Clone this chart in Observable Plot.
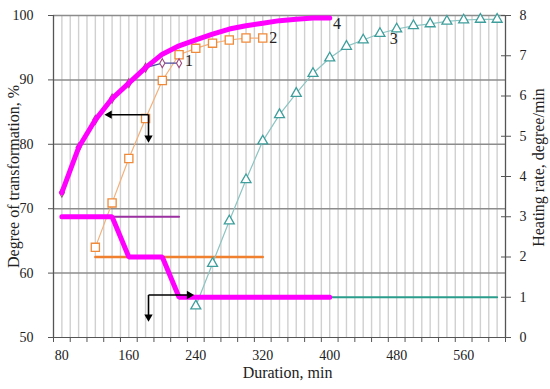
<!DOCTYPE html>
<html><head><meta charset="utf-8">
<script src="https://cdn.jsdelivr.net/npm/d3@7"></script>
<script src="https://cdn.jsdelivr.net/npm/@observablehq/plot@0.6"></script>
<style>
html,body{margin:0;padding:0;background:#fff;}
</style></head><body>
<div id="chart"></div>
<script>
// Degree of transformation (%), left axis
const durations1 = [80, 100, 120, 140, 160, 180, 200, 220];
const degree1 = [72.5, 79.5, 83.8, 87.1, 89.5, 91.9, 92.6, 92.6];
const durations2 = [120, 140, 160, 180, 200, 220, 240, 260, 280, 300, 320];
const degree2 = [64.0, 70.9, 77.8, 84.0, 89.9, 93.9, 94.9, 95.7, 96.2, 96.5, 96.5];
const durations3 = [240, 260, 280, 300, 320, 340, 360, 380, 400, 420, 440, 460, 480, 500, 520, 540, 560, 580, 600];
const degree3 = [54.9, 61.5, 68.1, 74.5, 80.5, 84.6, 87.9, 91.0, 93.4, 95.2, 96.2, 97.2, 97.9, 98.4, 98.7, 99.1, 99.3, 99.4, 99.4];
const durations4 = [80, 100, 120, 140, 160, 180, 200, 220, 240, 260, 280, 300, 320, 340, 360, 380, 400];
const degree4 = [72.5, 79.5, 83.8, 87.1, 89.5, 91.9, 94.0, 95.3, 96.2, 97.1, 97.9, 98.4, 98.8, 99.2, 99.4, 99.6, 99.6];

// Heating rate (degree/min), right axis
const rateDur1 = [80, 220];
const rate1 = [3, 3];
const rateDur2 = [120, 320];
const rate2 = [2, 2];
const rateDur3 = [240, 600];
const rate3 = [1, 1];
const rateDur4 = [80, 140, 160, 200, 220, 400];
const rate4 = [3, 3, 2, 2, 1, 1];

// Axes
const xTickLabels = [80, 160, 240, 320, 400, 480, 560];
const leftTicks = [50, 60, 70, 80, 90, 100];
const rightTicks = [0, 1, 2, 3, 4, 5, 6, 7, 8];

// Curve labels
const curveLabels = ["1", "2", "3", "4"];
const curveLabelX = [231.8, 332.6, 476.4, 408.7];
const curveLabelY = [92.9, 96.5, 96.4, 98.7];

// Arrow annotations (data units: duration, degree %)
const arrowShafts = [
  {x1: 183.5, y1: 84.6, x2: 136.7, y2: 84.6},
  {x1: 183.5, y1: 84.6, x2: 183.5, y2: 81.0},
  {x1: 183.5, y1: 56.6, x2: 232.2, y2: 56.6},
  {x1: 183.5, y1: 56.6, x2: 183.5, y2: 53.2}
];
const arrowHeadDir = [-90, 180, 90, 180];

const toLeft = r => 50 + r * 50 / 8;
const rows = (xs, ys) => xs.map((x, i) => ({x, y: ys[i]}));
const rateRows = (xs, rs) => xs.map((x, i) => ({x, y: toLeft(rs[i])}));

const c1 = rows(durations1, degree1);
const c2 = rows(durations2, degree2);
const c3 = rows(durations3, degree3);
const c4 = rows(durations4, degree4);
const r1 = rateRows(rateDur1, rate1);
const r2 = rateRows(rateDur2, rate2);
const r3 = rateRows(rateDur3, rate3);
const r4 = rateRows(rateDur4, rate4);
const labels = curveLabels.map((t, i) => ({t, x: curveLabelX[i], y: curveLabelY[i]}));
const heads = arrowShafts.map((a, i) => ({x: a.x2, y: a.y2, rot: arrowHeadDir[i]}));

const font = "'Palatino Linotype', 'Book Antiqua', Palatino, 'Liberation Serif', serif";

const plot = Plot.plot({
  width: 550,
  height: 389,
  marginLeft: 53,
  marginRight: 45,
  marginTop: 15,
  marginBottom: 52,
  style: {fontFamily: font, fontSize: "14px", color: "#222", background: "#fff"},
  x: {domain: [70, 610]},
  y: {domain: [50, 100]},
  marks: [
    Plot.ruleX(d3.range(70, 611, 10), {stroke: "#d0d0d0", strokeWidth: 1.4}),
    Plot.ruleY([60, 70, 80, 90, 100], {stroke: "#8c8c8c", strokeWidth: 1.5}),
    Plot.ruleX([70], {stroke: "#555", strokeWidth: 1.2}),
    Plot.ruleX([610], {stroke: "#555", strokeWidth: 1.2}),
    Plot.ruleY([50], {stroke: "#555", strokeWidth: 1.2}),
    Plot.axisX({ticks: d3.range(70, 611, 20), tickFormat: () => "", tickSize: 5, label: null, stroke: "#555"}),
    Plot.axisX({ticks: xTickLabels, tickSize: 0, tickPadding: 13, label: null}),
    Plot.axisY({ticks: leftTicks, tickSize: 5, tickPadding: 15, label: null, stroke: "#555"}),
    Plot.axisY({anchor: "right", ticks: rightTicks.map(toLeft), tickFormat: d => Math.round((d - 50) * 8 / 50), tickSize: 10, dx: -5, tickPadding: 9, label: null, stroke: "#555"}),

    // heating rate lines
    Plot.line(r2, {x: "x", y: "y", stroke: "#f07f2e", strokeWidth: 2.5}),
    Plot.line(r1, {x: "x", y: "y", stroke: "#9b30a0", strokeWidth: 2}),
    Plot.line(r3, {x: "x", y: "y", stroke: "#2a9d8c", strokeWidth: 2}),

    // degree curves
    Plot.line(c2, {x: "x", y: "y", stroke: "#f4b07a", strokeWidth: 1.2}),
    Plot.dot(c2, {x: "x", y: "y", symbol: "square", r: 4.6, stroke: "#ef8a3a", strokeWidth: 1.3, fill: "#fff"}),
    Plot.line(c3, {x: "x", y: "y", stroke: "#8cc4c2", strokeWidth: 1.2}),
    Plot.dot(c3, {x: "x", y: "y", symbol: "triangle", r: 3.7, stroke: "#3e9e9c", strokeWidth: 1.3, fill: "#fff"}),
    Plot.line(c1, {x: "x", y: "y", stroke: "#4a4a9e", strokeWidth: 1.2}),
    Plot.dot(c1, {x: "x", y: "y", symbol: "diamond", r: 2.7, stroke: "#a04a80", strokeWidth: 1.1, fill: "#fff"}),

    // combined regime (4)
    Plot.line(r4, {x: "x", y: "y", stroke: "#ff00ff", strokeWidth: 5, strokeLinejoin: "miter"}),
    Plot.line(c4, {x: "x", y: "y", stroke: "#ff00ff", strokeWidth: 5}),

    // arrows
    Plot.link(arrowShafts, {x1: "x1", y1: "y1", x2: "x2", y2: "y2", stroke: "#000", strokeWidth: 1.6}),
    Plot.dot(heads, {x: "x", y: "y", symbol: "triangle", r: 3.1, fill: "#000", stroke: "none", rotate: "rot"}),

    // labels
    Plot.text(labels, {x: "x", y: "y", text: "t", fontSize: 16, fill: "#222"}),
    Plot.text(["Degree of transformation, %"], {text: d => d, frameAnchor: "left", textAnchor: "middle", dx: -40, rotate: -90, fontSize: 16, fill: "#222"}),
    Plot.text(["Heating rate, degree/min"], {text: d => d, frameAnchor: "right", textAnchor: "middle", dx: 33, dy: -9, rotate: -90, fontSize: 16, fill: "#222"}),
    Plot.text(["Duration, min"], {text: d => d, frameAnchor: "bottom", textAnchor: "middle", dx: 8, dy: 40, fontSize: 16, fill: "#222"})
  ]
});
document.getElementById("chart").appendChild(plot);
</script>
</body></html>
